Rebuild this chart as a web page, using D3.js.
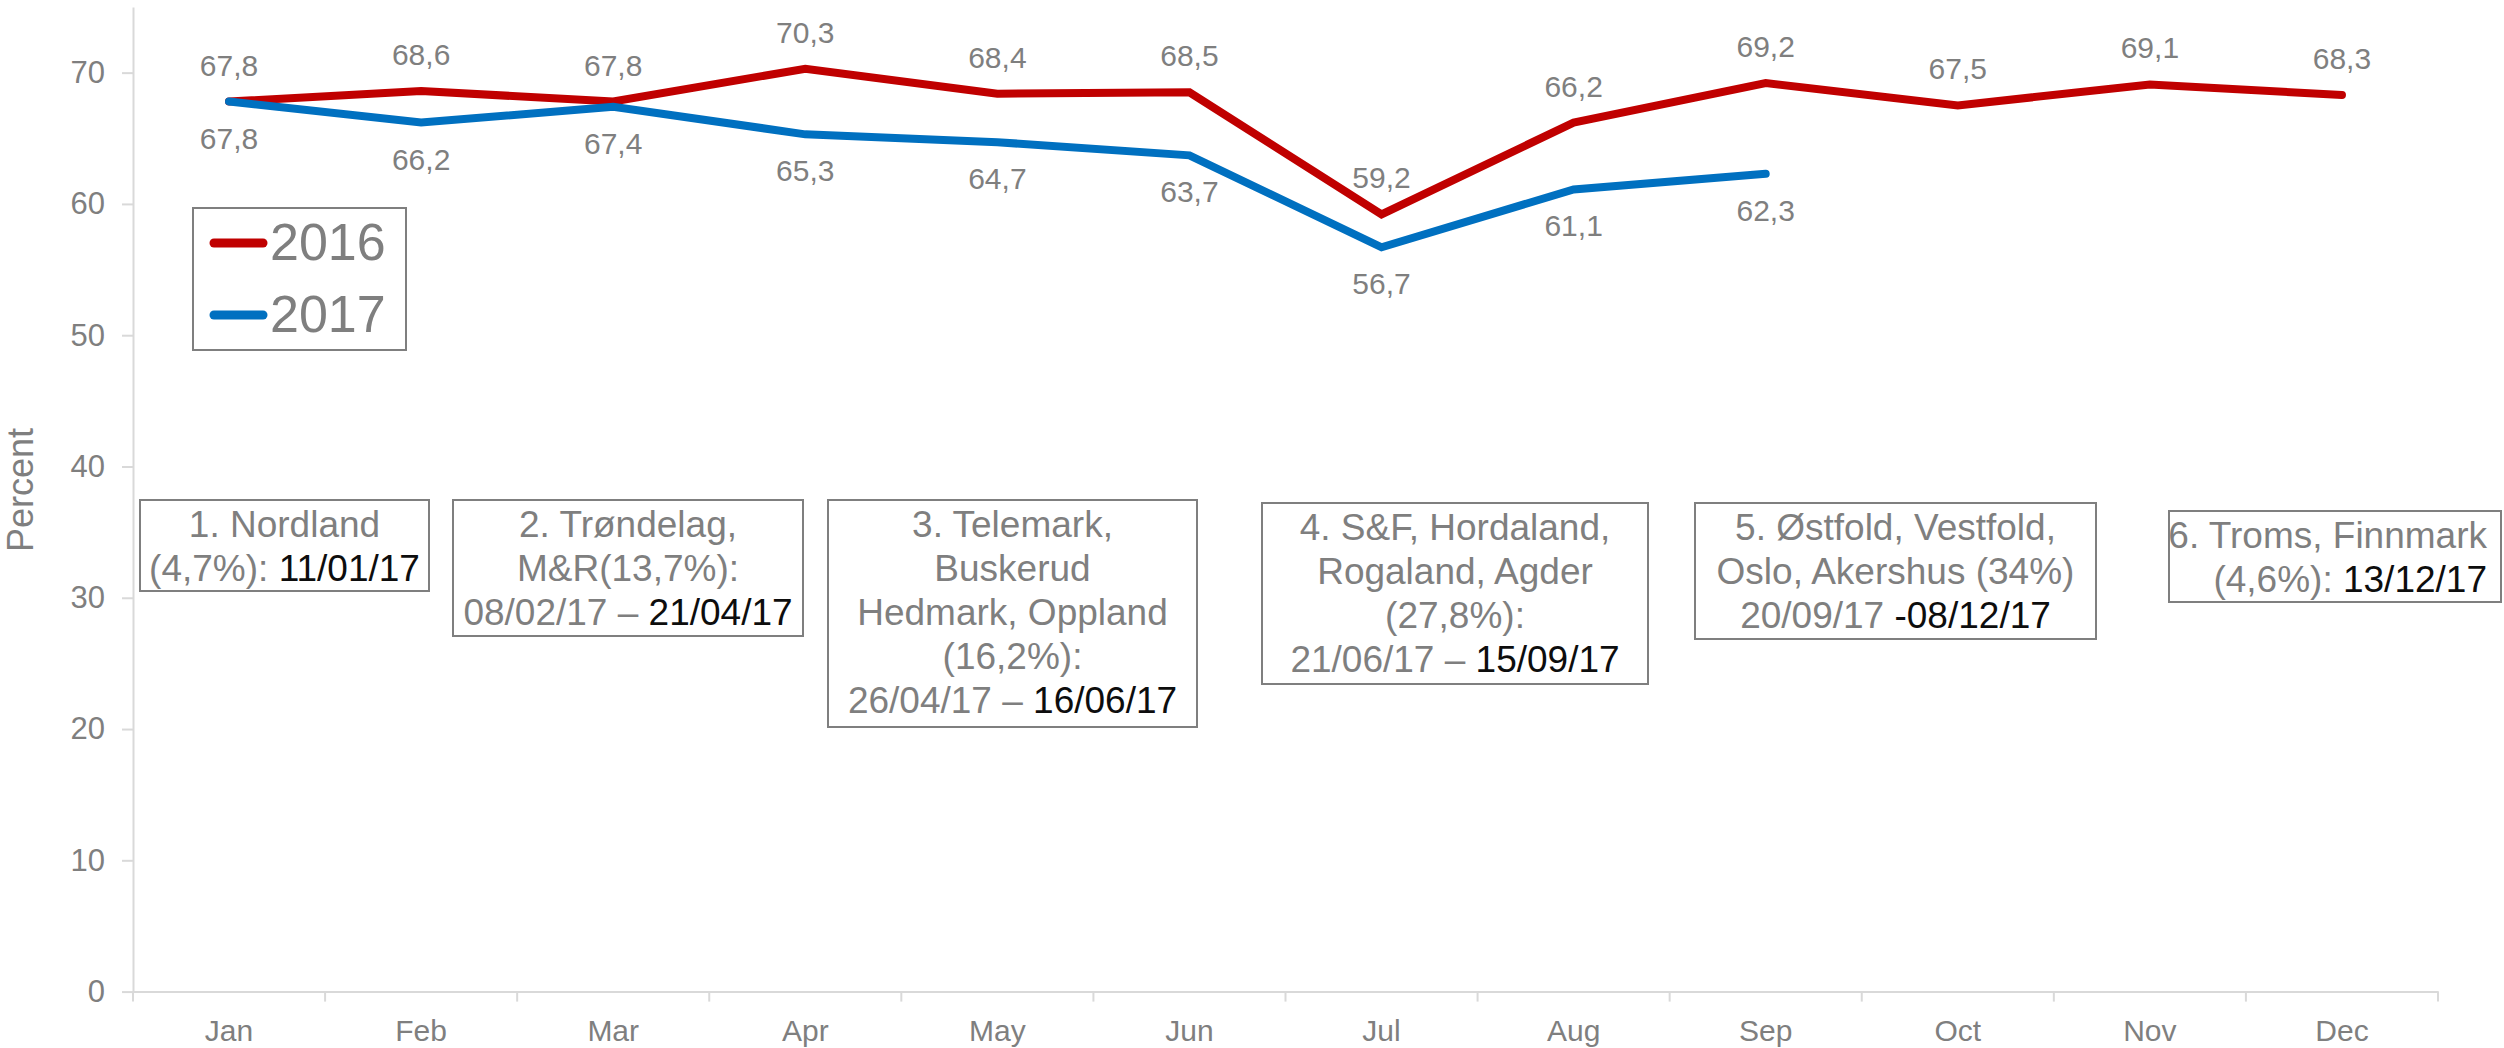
<!DOCTYPE html>
<html>
<head>
<meta charset="utf-8">
<script src="https://cdn.jsdelivr.net/npm/d3@7"></script>
<style>
  html, body { margin: 0; padding: 0; background: #ffffff; }
  svg { display: block; font-family: "Liberation Sans", Arial, sans-serif; }
</style>
</head>
<body>
<svg id="chart" width="2504" height="1048"></svg>
<script>
// ---------- DATA ----------
const months = ["Jan", "Feb", "Mar", "Apr", "May", "Jun", "Jul", "Aug", "Sep", "Oct", "Nov", "Dec"];
const values2016 = [67.8, 68.6, 67.8, 70.3, 68.4, 68.5, 59.2, 66.2, 69.2, 67.5, 69.1, 68.3];
const values2017 = [67.8, 66.2, 67.4, 65.3, 64.7, 63.7, 56.7, 61.1, 62.3];
const seriesNames = ["2016", "2017"];
const yTicks = [0, 10, 20, 30, 40, 50, 60, 70];
const yLabel = "Percent";
// annotation box texts: each line is a list of [text, emphasised]
const boxTexts = [
  [[["1. Nordland", false]], [["(4,7%): ", false], ["11/01/17", true]]],
  [[["2. Trøndelag,", false]], [["M&R(13,7%):", false]], [["08/02/17 – ", false], ["21/04/17", true]]],
  [[["3. Telemark,", false]], [["Buskerud", false]], [["Hedmark, Oppland", false]], [["(16,2%):", false]], [["26/04/17 – ", false], ["16/06/17", true]]],
  [[["4. S&F, Hordaland,", false]], [["Rogaland, Agder", false]], [["(27,8%):", false]], [["21/06/17 – ", false], ["15/09/17", true]]],
  [[["5. Østfold, Vestfold,", false]], [["Oslo, Akershus (34%)", false]], [["20/09/17 ", false], ["-08/12/17", true]]],
  [[["6. Troms, Finnmark", false]], [["(4,6%): ", false], ["13/12/17", true]]]
];

// ---------- LAYOUT / STYLE ----------
const boxLayout = [
  {x0: 140, x1: 429, y0: 500, y1: 591, align: "middle"},
  {x0: 453, x1: 803, y0: 500, y1: 636, align: "middle"},
  {x0: 828, x1: 1197, y0: 500, y1: 727, align: "middle"},
  {x0: 1262, x1: 1648, y0: 503, y1: 684, align: "middle"},
  {x0: 1695, x1: 2096, y0: 503, y1: 639, align: "middle"},
  {x0: 2169, x1: 2501, y0: 511, y1: 602, align: "end"}
];
const colors = ["#c00000", "#0070c0"];
const gray = "#7f7f7f";
const axisGray = "#d9d9d9";

const svg = d3.select("#chart");

const x = d3.scaleBand().domain(months).range([133, 2438]).padding(0);
const y = d3.scaleLinear().domain([0, 75]).range([991.6, 7]);
const cx = m => x(m) + x.bandwidth() / 2;

// Y axis
const yAxis = svg.append("g").attr("transform", "translate(133,0)")
  .call(d3.axisLeft(y).tickValues(yTicks).tickSize(11).tickSizeOuter(0).tickPadding(17));
yAxis.select(".domain").attr("stroke", axisGray).attr("stroke-width", 2);
yAxis.selectAll(".tick line").attr("stroke", axisGray).attr("stroke-width", 2);
yAxis.selectAll(".tick text").attr("fill", gray).attr("font-size", 31)
  .attr("font-family", "Liberation Sans, Arial, sans-serif");

// X axis
const xAxis = svg.append("g").attr("transform", `translate(0,${y(0)})`)
  .call(d3.axisBottom(x).tickSize(0).tickSizeOuter(0).tickPadding(28));
xAxis.select(".domain").attr("stroke", axisGray).attr("stroke-width", 2);
xAxis.selectAll(".tick text").attr("fill", gray).attr("font-size", 30)
  .attr("font-family", "Liberation Sans, Arial, sans-serif");
// boundary ticks between categories
const boundaries = months.map(m => x(m)).concat([x.range()[1]]);
xAxis.selectAll("line.bound").data(boundaries).enter().append("line")
  .attr("class", "bound")
  .attr("x1", d => d).attr("x2", d => d)
  .attr("y1", 0).attr("y2", 10)
  .attr("stroke", axisGray).attr("stroke-width", 2);

// Y label
svg.append("text")
  .attr("transform", `translate(33,490) rotate(-90)`)
  .attr("text-anchor", "middle")
  .attr("fill", gray).attr("font-size", 36)
  .text(yLabel);

// Lines
const series = [values2016, values2017];
const line = d3.line().x((d, i) => cx(months[i])).y(d => y(d));
series.forEach((vals, si) => {
  svg.append("path").datum(vals)
    .attr("d", line)
    .attr("fill", "none")
    .attr("stroke", colors[si])
    .attr("stroke-width", 8)
    .attr("stroke-linejoin", "miter")
    .attr("stroke-linecap", "round");
});

// Value labels
const fmt = v => d3.format(".1f")(v).replace(".", ",");
series.forEach((vals, si) => {
  svg.append("g").selectAll("text").data(vals).enter().append("text")
    .attr("x", (d, i) => cx(months[i]))
    .attr("y", d => si === 0 ? y(d) - 26 : y(d) + 47)
    .attr("text-anchor", "middle")
    .attr("fill", gray)
    .attr("font-size", 30)
    .text(fmt);
});

// Legend
const legend = svg.append("g");
legend.append("rect")
  .attr("x", 193).attr("y", 208).attr("width", 213).attr("height", 142)
  .attr("fill", "#ffffff").attr("stroke", gray).attr("stroke-width", 2);
seriesNames.forEach((name, i) => {
  const ly = 243 + i * 72;
  legend.append("line")
    .attr("x1", 214).attr("x2", 263).attr("y1", ly).attr("y2", ly)
    .attr("stroke", colors[i]).attr("stroke-width", 9).attr("stroke-linecap", "round");
  legend.append("text")
    .attr("x", 270).attr("y", ly + 17)
    .attr("fill", gray).attr("font-size", 52)
    .text(name);
});

// Annotation boxes
const boxes = svg.append("g");
boxTexts.forEach((lines, bi) => {
  const b = boxLayout[bi];
  boxes.append("rect")
    .attr("x", b.x0).attr("y", b.y0)
    .attr("width", b.x1 - b.x0).attr("height", b.y1 - b.y0)
    .attr("fill", "#ffffff").attr("stroke", gray).attr("stroke-width", 2);
  const tx = b.align === "end" ? b.x1 - 14 : (b.x0 + b.x1) / 2;
  lines.forEach((segs, li) => {
    const t = boxes.append("text")
      .attr("x", tx)
      .attr("y", b.y0 + 36.5 + li * 44)
      .attr("text-anchor", b.align)
      .attr("font-size", 37)
      .attr("fill", gray);
    segs.forEach(([txt, dark]) => {
      t.append("tspan").attr("fill", dark ? "#0d0d0d" : gray).text(txt);
    });
  });
});
</script>
</body>
</html>
